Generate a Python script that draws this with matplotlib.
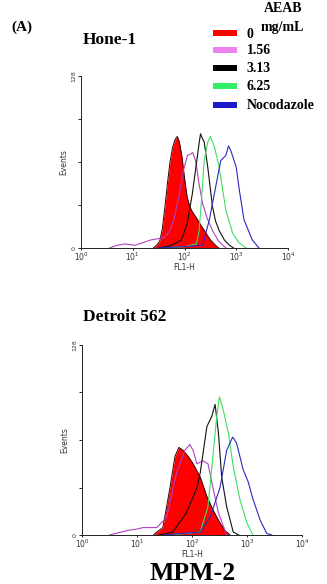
import numpy as np
import matplotlib
matplotlib.use("Agg")
import matplotlib.pyplot as plt
from matplotlib.patches import Rectangle

# ---------------- data (log10 FL1-H, event counts) ----------------
legend_labels = ["0", "1.56", "3.13", "6.25", "Nocodazole"]
legend_colors = ["#ff0000", "#ee82ee", "#000000", "#33ee66", "#1a1acc"]
line_colors = ["#ff0000", "#b040c0", "#111111", "#3ae060", "#2a2ac0"]
panel_titles = ["Hone-1", "Detroit 562"]
x_tick_exps = [0, 1, 2, 3, 4]
y_ticks = [0, 32, 64, 96, 128]

# Hone-1
h_red_x = [1.40, 1.46, 1.52, 1.57, 1.62, 1.67, 1.72, 1.77, 1.82, 1.86, 1.90, 1.95, 2.00, 2.05, 2.10, 2.15, 2.22, 2.30, 2.40, 2.50, 2.60, 2.66]
h_red_y = [0, 2, 5, 14, 30, 48, 64, 75, 81, 83, 79, 68, 52, 38, 31, 27, 23, 18, 12, 6, 2, 0]
h_mag_x = [0.55, 0.70, 0.85, 1.04, 1.20, 1.35, 1.50, 1.62, 1.72, 1.80, 1.90, 1.98, 2.06, 2.12, 2.16, 2.22, 2.28, 2.35, 2.44, 2.54, 2.66, 2.80]
h_mag_y = [0, 2, 3, 2, 4, 6, 7, 8, 13, 22, 40, 58, 69, 70, 71, 64, 48, 33, 22, 13, 5, 0]
h_blk_x = [1.50, 1.75, 1.94, 2.05, 2.15, 2.23, 2.29, 2.31, 2.34, 2.38, 2.45, 2.54, 2.60, 2.67, 2.77, 2.87, 2.95]
h_blk_y = [0, 2, 6, 18, 40, 63, 80, 85, 82, 79, 60, 31, 20, 13, 6, 2, 0]
h_grn_x = [1.60, 2.00, 2.23, 2.28, 2.32, 2.38, 2.45, 2.50, 2.58, 2.67, 2.80, 2.93, 3.05, 3.19]
h_grn_y = [0, 1, 3, 12, 31, 65, 79, 83, 75, 60, 28, 11, 4, 0]
h_blu_x = [1.50, 2.00, 2.35, 2.48, 2.60, 2.70, 2.80, 2.85, 2.90, 3.00, 3.06, 3.15, 3.31, 3.44]
h_blu_y = [0, 1, 2, 21, 45, 65, 69, 76, 72, 60, 43, 21, 6, 0]

# Detroit 562
d_red_x = [1.30, 1.36, 1.47, 1.60, 1.69, 1.76, 1.84, 1.93, 2.02, 2.15, 2.27, 2.38, 2.51, 2.60, 2.69]
d_red_y = [0, 2, 5, 32, 53, 59, 57, 53, 48, 39, 26, 17, 8, 3, 0]
d_mag_x = [0.50, 0.82, 1.00, 1.11, 1.36, 1.54, 1.72, 1.87, 1.96, 2.02, 2.09, 2.20, 2.29, 2.38, 2.48, 2.63]
d_mag_y = [0, 3, 4, 5, 5, 12, 42, 57, 61, 57, 48, 50, 48, 32, 15, 0]
d_blk_x = [1.40, 1.65, 1.90, 2.09, 2.15, 2.27, 2.36, 2.42, 2.48, 2.54, 2.63, 2.75, 2.85]
d_blk_y = [0, 2, 15, 32, 42, 73, 80, 88, 69, 39, 19, 2, 0]
d_grn_x = [1.60, 2.15, 2.29, 2.38, 2.45, 2.50, 2.57, 2.66, 2.75, 2.87, 3.00, 3.11]
d_grn_y = [0, 2, 19, 53, 80, 93, 84, 69, 46, 24, 8, 0]
d_blu_x = [1.50, 2.15, 2.33, 2.51, 2.63, 2.74, 2.81, 2.93, 3.02, 3.11, 3.24, 3.36, 3.45]
d_blu_y = [0, 2, 12, 32, 57, 66, 62, 44, 36, 24, 10, 1, 0]

panels = [
    [(h_red_x, h_red_y), (h_mag_x, h_mag_y), (h_blk_x, h_blk_y), (h_grn_x, h_grn_y), (h_blu_x, h_blu_y)],
    [(d_red_x, d_red_y), (d_mag_x, d_mag_y), (d_blk_x, d_blk_y), (d_grn_x, d_grn_y), (d_blu_x, d_blu_y)],
]

W, H = 327, 584
fig = plt.figure(figsize=(W / 100, H / 100), dpi=100)
serif = "Liberation Serif"


def fx(px):
    return px / W


def fy(py):
    return 1 - py / H


axes_px = [(81, 76, 288, 248), (82, 345, 302, 535)]
title_px = [(83, 40), (83, 317)]

for k, (l, t, r, b) in enumerate(axes_px):
    ax = fig.add_axes([fx(l), fy(b), fx(r) - fx(l), fy(t) - fy(b)])
    ax.set_xscale("log")
    ax.set_xlim(1, 1e4)
    ax.set_ylim(0, 128)
    curves = panels[k]
    rx, ry = curves[0]
    rxv = 10 ** np.array(rx)
    ax.fill_between(rxv, ry, 0, color="#ff0000", lw=0, zorder=1)
    ax.plot(rxv, ry, color="#330000", lw=0.7, zorder=2)
    for i in range(1, 5):
        cx, cy = curves[i]
        ax.plot(10 ** np.array(cx), cy, color=line_colors[i], lw=0.8, zorder=3)
    for s in ["top", "right"]:
        ax.spines[s].set_visible(False)
    for s in ["left", "bottom"]:
        ax.spines[s].set_linewidth(0.7)
        ax.spines[s].set_color("#222222")
    ax.set_xticks([10.0 ** e for e in x_tick_exps])
    ax.set_xticklabels([f"$10^{{{e}}}$" for e in x_tick_exps], fontsize=5.5, color="#333333")
    ax.xaxis.set_minor_locator(matplotlib.ticker.NullLocator())
    ax.set_yticks(y_ticks)
    ax.set_yticklabels([str(v) if v in (0, 128) else "" for v in y_ticks],
                       fontsize=4.5, rotation=90, va="center", color="#333333")
    ax.tick_params(axis="x", length=1.5, width=0.6, pad=0.5)
    ax.tick_params(axis="y", length=2, width=0.6, pad=1.5)
    ax.set_xlabel("FL1-H", fontsize=5.5, color="#333333", labelpad=0)
    ax.set_ylabel("Events", fontsize=5.5, color="#333333", labelpad=2)
    fig.text(fx(title_px[k][0]), fy(title_px[k][1]), panel_titles[k], family=serif,
             fontweight="bold", fontsize=12.5, ha="left", va="center")

fig.text(fx(11), fy(27), "(A)", family=serif, fontweight="bold", fontsize=11, ha="left", va="center")
fig.text(fx(283), fy(9), "AEAB", family=serif, fontweight="bold", fontsize=10, ha="center", va="center")
fig.text(fx(193), fy(573), "MPM-2", family=serif, fontweight="bold", fontsize=18.5, ha="center", va="center")

row_y = [33, 50, 68, 86, 105]
for i, lab in enumerate(legend_labels):
    fig.add_artist(Rectangle((fx(213), fy(row_y[i] + 3)), fx(24), 6 / H,
                             transform=fig.transFigure, color=legend_colors[i], lw=0))
    fig.text(fx(247), fy(row_y[i] + 1), lab, family=serif, fontweight="bold",
             fontsize=10, ha="left", va="center")
fig.text(fx(261), fy(28), "mg/mL", family=serif, fontweight="bold", fontsize=10, ha="left", va="center")

fig.savefig("out.png", dpi=100)
